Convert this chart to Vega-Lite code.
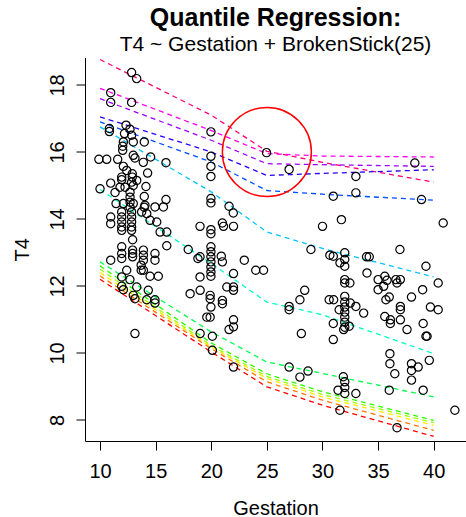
{
 "$schema": "https://vega.github.io/schema/vega-lite/v6.json",
 "width": 381,
 "height": 383.5,
 "autosize": {"type": "none"},
 "padding": {"left": 85, "top": 57.5, "right": 0, "bottom": 76},
 "title": {"text": "Quantile Regression:", "subtitle": "T4 ~ Gestation + BrokenStick(25)", "fontSize": 25, "fontWeight": "bold", "subtitleFontSize": 21, "font": "Liberation Sans", "subtitleFont": "Liberation Sans", "color": "black", "subtitleColor": "black", "anchor": "middle", "offset": 2, "subtitlePadding": 3},
 "config": {
  "font": "Liberation Sans",
  "view": {"stroke": null},
  "axis": {"grid": false, "domainColor": "black", "tickColor": "black", "labelColor": "black", "titleColor": "black", "labelFontSize": 20, "titleFontSize": 20, "titleFontWeight": "normal", "tickSize": 9, "labelFlush": false, "labelOverlap": false, "domainWidth": 1, "tickWidth": 1}
 },
 "datasets": {
  "pts": [
   {"x":12.84,"y":18.37},{"x":13.29,"y":18.19},{"x":10.96,"y":17.77},{"x":10.96,"y":17.48},{"x":12.84,"y":17.48},
   {"x":12.34,"y":16.8},{"x":12.69,"y":16.68},{"x":10.84,"y":16.7},{"x":10.84,"y":16.61},{"x":12.84,"y":16.5},
   {"x":12.1,"y":16.3},{"x":12.99,"y":16.3},{"x":13.98,"y":16.3},{"x":12.04,"y":16.17},{"x":12.04,"y":16.05},
   {"x":12.99,"y":15.9},{"x":13.14,"y":15.82},{"x":9.9,"y":15.78},{"x":10.6,"y":15.78},{"x":11.59,"y":15.78},
   {"x":13.89,"y":15.69},{"x":14.55,"y":15.85},{"x":15.93,"y":15.68},{"x":12.1,"y":15.57},{"x":12.9,"y":15.35},
   {"x":12.9,"y":15.25},{"x":14.28,"y":15.37},{"x":11.95,"y":15.25},{"x":11.95,"y":15.17},{"x":10.96,"y":15.07},
   {"x":11.8,"y":14.95},{"x":12.25,"y":14.95},{"x":12.84,"y":15.1},{"x":12.99,"y":15.0},{"x":14.13,"y":14.97},
   {"x":10.0,"y":14.9},{"x":11.35,"y":14.79},{"x":12.7,"y":14.8},{"x":12.7,"y":14.65},{"x":12.7,"y":14.5},
   {"x":12.7,"y":14.35},{"x":13.98,"y":14.67},{"x":13.98,"y":14.35},{"x":15.93,"y":14.58},{"x":15.7,"y":14.36},
   {"x":14.94,"y":14.36},{"x":12.4,"y":15.45},{"x":13.3,"y":15.15},{"x":12.2,"y":16.55},
   {"x":19.97,"y":16.6},{"x":19.97,"y":15.87},{"x":19.97,"y":15.57},{"x":19.97,"y":15.27},{"x":24.97,"y":15.98},
   {"x":27.0,"y":15.48},{"x":19.97,"y":14.61},{"x":19.97,"y":14.48},{"x":21.6,"y":14.38},
   {"x":38.3,"y":15.67},{"x":33.0,"y":15.27},{"x":30.97,"y":14.68},{"x":33.0,"y":14.78},{"x":38.9,"y":14.58},
   {"x":21.98,"y":14.18},{"x":18.99,"y":13.78},{"x":19.97,"y":13.68},{"x":19.97,"y":13.56},{"x":21.0,"y":13.88},
   {"x":21.1,"y":13.78},{"x":22.0,"y":13.78},{"x":30.0,"y":13.78},{"x":19.97,"y":13.17},{"x":19.97,"y":13.02},
   {"x":19.97,"y":12.87},{"x":19.97,"y":12.72},{"x":19.97,"y":12.57},{"x":19.97,"y":12.42},{"x":19.97,"y":12.29},
   {"x":18.99,"y":12.87},{"x":18.99,"y":12.27},{"x":20.9,"y":12.89},{"x":21.0,"y":12.72},{"x":22.97,"y":12.77},
   {"x":24.0,"y":12.47},{"x":24.7,"y":12.47},{"x":22.0,"y":12.37},{"x":21.4,"y":11.97},{"x":22.0,"y":11.97},
   {"x":22.0,"y":11.87},{"x":19.0,"y":11.87},{"x":19.9,"y":11.72},{"x":19.9,"y":11.62},{"x":19.97,"y":11.37},
   {"x":21.0,"y":11.57},{"x":21.0,"y":11.47},{"x":19.6,"y":11.07},{"x":19.9,"y":11.07},{"x":22.0,"y":10.99},
   {"x":21.6,"y":10.7},{"x":22.0,"y":10.78},{"x":20.1,"y":10.5},{"x":28.4,"y":11.87},{"x":27.97,"y":11.59},
   {"x":27.0,"y":11.39},{"x":27.0,"y":11.29},{"x":30.6,"y":11.59},{"x":28.1,"y":10.58},{"x":28.96,"y":13.09},
   {"x":30.66,"y":12.92},
   {"x":19.0,"y":10.58},{"x":20.1,"y":10.08},{"x":22.0,"y":9.58},{"x":27.0,"y":9.58},{"x":27.97,"y":9.28},{"x":28.7,"y":9.46},
   {"x":31.7,"y":13.98},{"x":40.85,"y":13.88},{"x":36.96,"y":13.09},{"x":39.3,"y":12.59},{"x":30.97,"y":12.89},
   {"x":32.0,"y":12.99},{"x":32.0,"y":12.79},{"x":32.0,"y":12.59},{"x":31.57,"y":12.69},{"x":33.96,"y":12.87},
   {"x":34.2,"y":12.87},{"x":34.0,"y":12.39},{"x":32.0,"y":12.19},{"x":32.0,"y":12.09},{"x":32.46,"y":12.09},
   {"x":35.0,"y":12.19},{"x":35.6,"y":12.29},{"x":35.8,"y":12.17},{"x":35.5,"y":11.99},{"x":35.0,"y":11.89},
   {"x":36.6,"y":12.19},{"x":37.0,"y":12.19},{"x":36.7,"y":12.09},{"x":40.4,"y":12.09},{"x":39.0,"y":11.89},
   {"x":38.0,"y":11.67},{"x":36.0,"y":11.67},{"x":35.7,"y":11.59},{"x":31.0,"y":11.59},{"x":32.0,"y":11.69},
   {"x":32.0,"y":11.52},{"x":32.0,"y":11.37},{"x":32.0,"y":11.22},{"x":32.0,"y":11.07},{"x":32.0,"y":10.92},
   {"x":32.0,"y":10.77},{"x":31.5,"y":11.29},{"x":32.5,"y":11.49},{"x":33.0,"y":11.39},{"x":33.7,"y":11.19},
   {"x":37.0,"y":11.39},{"x":37.0,"y":11.29},{"x":39.7,"y":11.37},{"x":40.4,"y":11.29},{"x":35.6,"y":11.09},
   {"x":36.1,"y":10.99},{"x":36.1,"y":10.88},{"x":37.0,"y":10.99},{"x":39.05,"y":10.88},{"x":37.6,"y":10.7},
   {"x":39.3,"y":10.5},{"x":39.4,"y":10.5},{"x":30.97,"y":10.88},{"x":32.4,"y":10.8},{"x":31.9,"y":10.7},
   {"x":30.97,"y":10.4},
   {"x":36.06,"y":9.98},{"x":36.06,"y":9.68},{"x":36.5,"y":9.38},{"x":38.0,"y":9.68},{"x":38.0,"y":9.48},
   {"x":38.6,"y":9.58},{"x":39.6,"y":9.78},{"x":38.0,"y":9.19},{"x":31.87,"y":9.29},{"x":32.0,"y":9.14},
   {"x":32.0,"y":8.97},{"x":32.0,"y":8.79},{"x":31.4,"y":8.89},{"x":33.0,"y":8.79},{"x":36.0,"y":8.89},
   {"x":39.05,"y":8.89},{"x":31.57,"y":8.29},{"x":36.7,"y":7.77},{"x":41.9,"y":8.29},
   {"x":11.44,"y":14.46},{"x":12.1,"y":14.46},{"x":12.99,"y":14.46},{"x":14.04,"y":14.41},
   {"x":10.96,"y":14.06},{"x":10.96,"y":13.86},{"x":11.95,"y":14.21},{"x":11.95,"y":14.06},{"x":11.95,"y":13.91},
   {"x":11.95,"y":13.76},{"x":11.95,"y":13.66},{"x":12.84,"y":14.21},{"x":12.84,"y":14.06},{"x":12.84,"y":13.91},
   {"x":12.84,"y":13.76},{"x":12.84,"y":13.66},{"x":13.74,"y":14.21},{"x":14.2,"y":14.16},{"x":14.5,"y":13.96},
   {"x":15.1,"y":13.91},{"x":15.4,"y":13.61},{"x":16.0,"y":13.61},{"x":16.0,"y":13.2},{"x":11.95,"y":13.17},
   {"x":11.95,"y":12.97},{"x":11.95,"y":12.82},{"x":12.93,"y":13.38},{"x":12.93,"y":13.07},{"x":12.93,"y":12.97},
   {"x":12.93,"y":12.87},{"x":13.9,"y":13.07},{"x":13.9,"y":12.92},{"x":13.9,"y":12.77},{"x":14.94,"y":12.97},
   {"x":14.94,"y":12.77},{"x":10.96,"y":12.77},{"x":13.7,"y":12.62},{"x":13.9,"y":12.47},{"x":13.7,"y":12.47},
   {"x":12.4,"y":12.47},{"x":14.5,"y":12.29},{"x":15.24,"y":12.29},{"x":17.93,"y":13.09},{"x":18.8,"y":12.82},
   {"x":18.1,"y":11.77},{"x":11.95,"y":12.27},{"x":11.95,"y":11.99},{"x":12.69,"y":12.19},{"x":12.1,"y":11.89},
   {"x":13.3,"y":11.97},{"x":14.34,"y":11.87},{"x":14.94,"y":11.59},{"x":14.94,"y":11.49},{"x":14.2,"y":11.59},
   {"x":12.99,"y":11.72},{"x":13.14,"y":11.62},{"x":13.14,"y":10.58}
  ],
  "lines": [
   {"tau":"q13","x":10,"y":18.76},{"tau":"q13","x":20,"y":17.1},{"tau":"q13","x":25,"y":16.02},{"tau":"q13","x":30,"y":15.69},{"tau":"q13","x":40,"y":15.1},
   {"tau":"q12","x":10,"y":17.9},{"tau":"q12","x":20,"y":16.64},{"tau":"q12","x":25,"y":15.95},{"tau":"q12","x":30,"y":15.88},{"tau":"q12","x":40,"y":15.85},
   {"tau":"q11","x":10,"y":17.59},{"tau":"q11","x":20,"y":16.35},{"tau":"q11","x":25,"y":15.65},{"tau":"q11","x":30,"y":15.62},{"tau":"q11","x":40,"y":15.57},
   {"tau":"q10","x":10,"y":17.05},{"tau":"q10","x":20,"y":16.0},{"tau":"q10","x":25,"y":15.3},{"tau":"q10","x":30,"y":15.36},{"tau":"q10","x":40,"y":15.47},
   {"tau":"q09","x":10,"y":16.9},{"tau":"q09","x":20,"y":15.7},{"tau":"q09","x":25,"y":14.85},{"tau":"q09","x":30,"y":14.74},{"tau":"q09","x":40,"y":14.56},
   {"tau":"q08","x":10,"y":16.75},{"tau":"q08","x":20,"y":14.81},{"tau":"q08","x":25,"y":13.61},{"tau":"q08","x":30,"y":13.12},{"tau":"q08","x":40,"y":12.27},
   {"tau":"q07","x":10,"y":14.88},{"tau":"q07","x":20,"y":12.67},{"tau":"q07","x":25,"y":11.52},{"tau":"q07","x":30,"y":11.14},{"tau":"q07","x":40,"y":9.98},
   {"tau":"q06","x":10,"y":12.72},{"tau":"q06","x":20,"y":10.63},{"tau":"q06","x":25,"y":9.73},{"tau":"q06","x":30,"y":9.39},{"tau":"q06","x":40,"y":8.69},
   {"tau":"q05","x":10,"y":12.6},{"tau":"q05","x":20,"y":10.3},{"tau":"q05","x":25,"y":9.38},{"tau":"q05","x":30,"y":8.84},{"tau":"q05","x":40,"y":7.99},
   {"tau":"q04","x":10,"y":12.5},{"tau":"q04","x":20,"y":10.22},{"tau":"q04","x":25,"y":9.3},{"tau":"q04","x":30,"y":8.76},{"tau":"q04","x":40,"y":7.92},
   {"tau":"q03","x":10,"y":12.4},{"tau":"q03","x":20,"y":10.18},{"tau":"q03","x":25,"y":9.24},{"tau":"q03","x":30,"y":8.69},{"tau":"q03","x":40,"y":7.84},
   {"tau":"q02","x":10,"y":12.3},{"tau":"q02","x":20,"y":10.13},{"tau":"q02","x":25,"y":9.14},{"tau":"q02","x":30,"y":8.59},{"tau":"q02","x":40,"y":7.69},
   {"tau":"q01","x":10,"y":12.2},{"tau":"q01","x":20,"y":10.03},{"tau":"q01","x":25,"y":8.99},{"tau":"q01","x":30,"y":8.44},{"tau":"q01","x":40,"y":7.51}
  ],
  "circ": [{"x":25,"y":16}]
 },
 "layer": [
  {
   "data": {"name": "lines"},
   "mark": {"type": "line", "strokeDash": [5, 4], "strokeWidth": 1.3},
   "encoding": {
    "x": {"field": "x", "type": "quantitative", "scale": {"domain": [8.65, 42.9], "nice": false, "zero": false},
     "axis": {"values": [10, 15, 20, 25, 30, 35, 40], "title": "Gestation", "labelPadding": 11, "titleY": 73, "titleBaseline": "alphabetic"}},
    "y": {"field": "y", "type": "quantitative", "scale": {"domain": [7.373, 18.82], "nice": false, "zero": false},
     "axis": {"values": [8, 10, 12, 14, 16, 18], "title": "T4", "labelAngle": 270, "labelAlign": "center", "labelBaseline": "alphabetic", "labelPadding": 13, "titleX": -57, "titleAngle": 270, "titleAlign": "center", "titleBaseline": "alphabetic"}},
    "color": {"field": "tau", "type": "nominal", "legend": null,
     "scale": {"domain": ["q01","q02","q03","q04","q05","q06","q07","q08","q09","q10","q11","q12","q13"],
      "range": ["#FF0000","#FF7600","#FFEC00","#9DFF00","#27FF00","#00FF4E","#00FFC4","#00C4FF","#004EFF","#2700FF","#9D00FF","#FF00EC","#FF0076"]}}
   }
  },
  {
   "data": {"name": "pts"},
   "mark": {"type": "point", "shape": "circle", "filled": false, "stroke": "black", "strokeWidth": 1.2, "size": 68, "opacity": 1},
   "encoding": {
    "x": {"field": "x", "type": "quantitative"},
    "y": {"field": "y", "type": "quantitative"}
   }
  },
  {
   "data": {"name": "circ"},
   "mark": {"type": "point", "shape": "circle", "filled": false, "stroke": "red", "strokeWidth": 1.5, "size": 7921, "opacity": 1},
   "encoding": {
    "x": {"field": "x", "type": "quantitative"},
    "y": {"field": "y", "type": "quantitative"}
   }
  }
 ]
}
